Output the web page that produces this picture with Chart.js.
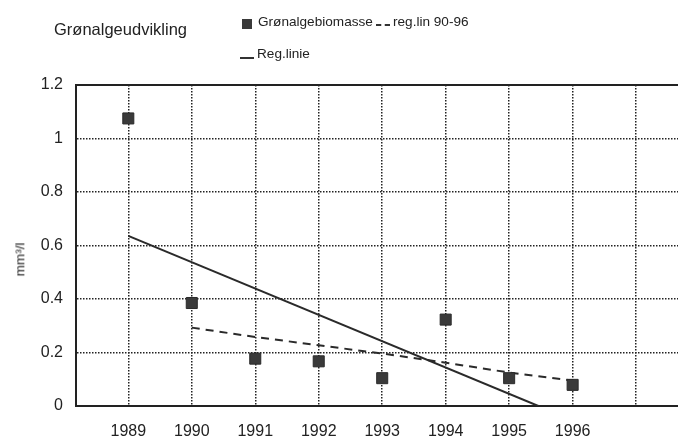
<!DOCTYPE html>
<html>
<head>
<meta charset="utf-8">
<script src="https://cdn.jsdelivr.net/npm/chart.js@4/dist/chart.umd.min.js"></script>
<style>
    body { margin: 0; background: #fff; }
    #wrap { position: relative; width: 678px; height: 437px; font-family: "Liberation Sans", Arial, sans-serif; color: #222; }
    #wrap span, #wrap div.mk { position: absolute; white-space: nowrap; }
    .title { left: 54px; top: 20px; font-size: 16.5px; }
    .leg { font-size: 13.6px; }
</style>
</head>
<body>
<div id="wrap">
    <canvas id="chart" width="678" height="437"></canvas>
    <span class="title">Grønalgeudvikling</span>
    <div class="mk" style="left:242px;top:19px;width:10px;height:10px;background:#3a3a3a;"></div>
    <span class="leg" style="left:258px;top:14px;">Grønalgebiomasse</span>
    <div class="mk" style="left:376px;top:24px;width:14px;border-top:2px dashed #333;"></div>
    <span class="leg" style="left:393px;top:14px;">reg.lin 90-96</span>
    <div class="mk" style="left:240px;top:57px;width:14px;border-top:2px solid #333;"></div>
    <span class="leg" style="left:257px;top:46px;">Reg.linie</span>
    <span style="left:3px;top:252px;font-size:13.5px;transform:rotate(-90deg);transform-origin:center;">mm³/l</span>
</div>
<script>
// data
const years = [1989, 1990, 1991, 1992, 1993, 1994, 1995, 1996];
const biomass = [1.075, 0.385, 0.177, 0.167, 0.104, 0.323, 0.104, 0.079];
const regYears9096 = [1990, 1991, 1992, 1993, 1994, 1995, 1996];
const reg9096 = [0.293, 0.258, 0.227, 0.196, 0.162, 0.125, 0.095];
const regLineX = [1989, 1995.46];
const regLineY = [0.636, 0];
const gridYears = [1989, 1990, 1991, 1992, 1993, 1994, 1995, 1996, 1997];
const yTicks = [0, 0.2, 0.4, 0.6, 0.8, 1, 1.2];
const yTickLabels = ['0', '0.2', '0.4', '0.6', '0.8', '1', '1.2'];

const font = { family: '"Liberation Sans", Arial, sans-serif', size: 16 };

new Chart(document.getElementById('chart'), {
    type: 'scatter',
    data: {
        datasets: [
            {
                label: 'Grønalgebiomasse',
                data: years.map((x, i) => ({ x: x, y: biomass[i] })),
                pointStyle: 'rect',
                pointRadius: 7.8,
                backgroundColor: '#3a3a3a',
                borderColor: '#2a2a2a',
                borderWidth: 1
            },
            {
                label: 'reg.lin 90-96',
                data: regYears9096.map((x, i) => ({ x: x, y: reg9096[i] })),
                showLine: true,
                pointRadius: 0,
                borderColor: '#2a2a2a',
                borderWidth: 2,
                borderDash: [8, 6]
            },
            {
                label: 'Reg.linie',
                data: regLineX.map((x, i) => ({ x: x, y: regLineY[i] })),
                showLine: true,
                pointRadius: 0,
                borderColor: '#2a2a2a',
                borderWidth: 2
            }
        ]
    },
    options: {
        responsive: false,
        animation: false,
        devicePixelRatio: 1,
        layout: { autoPadding: false, padding: { top: 85, left: 0, right: 0, bottom: 0 } },
        plugins: {
            legend: { display: false },
            tooltip: { enabled: false }
        },
        scales: {
            x: {
                type: 'linear',
                min: 1988.176,
                max: 1997.66,
                afterBuildTicks: scale => { scale.ticks = gridYears.map(v => ({ value: v })); },
                afterFit: scale => { scale.height = 31; },
                ticks: {
                    autoSkip: false,
                    padding: 16,
                    color: '#222',
                    font: font,
                    callback: v => years.includes(v) ? String(v) : ''
                },
                grid: { color: '#222', lineWidth: 1.5, drawTicks: false },
                border: { color: '#222', width: 2, dash: [1.5, 1.5] }
            },
            y: {
                min: 0,
                max: 1.2,
                afterBuildTicks: scale => { scale.ticks = yTicks.map(v => ({ value: v })); },
                afterFit: scale => { scale.width = 76; },
                ticks: {
                    padding: 13,
                    color: '#222',
                    font: font,
                    callback: (v, i) => yTickLabels[i]
                },
                grid: {
                    color: '#222',
                    drawTicks: false,
                    lineWidth: ctx => (ctx.tick && ctx.tick.value > 1.19) ? 2 : 1.5
                },
                border: {
                    color: '#222',
                    width: 2,
                    dash: ctx => (ctx.tick && ctx.tick.value > 1.19) ? [] : [1.5, 1.5]
                }
            }
        }
    }
});
</script>
</body>
</html>
